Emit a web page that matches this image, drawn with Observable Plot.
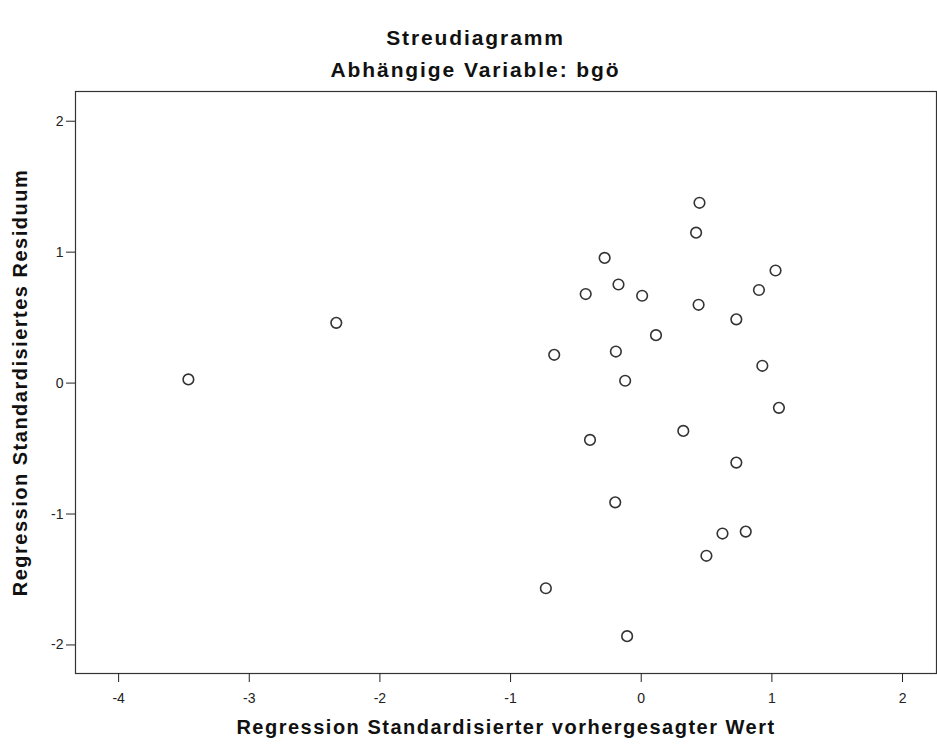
<!DOCTYPE html>
<html>
<head>
<meta charset="utf-8">
<script src="https://cdn.jsdelivr.net/npm/d3@7"></script>
<script src="https://cdn.jsdelivr.net/npm/@observablehq/plot@0.6"></script>
<style>
  html, body { margin: 0; padding: 0; background: #fff; }
  #wrap { position: relative; width: 937px; height: 747px; font-family: "Liberation Sans", Arial, sans-serif; }
  #header { position: relative; width: 937px; height: 80px; }
  .t { position: absolute; left: 7px; width: 937px; text-align: center; font-weight: bold; font-size: 21px; color: #111; line-height: 1; letter-spacing: 1.9px; }
  #title { top: 27px; }
  #subtitle { top: 59px; }
</style>
</head>
<body>
<div id="wrap">
  <div id="header">
    <div class="t" id="title">Streudiagramm</div>
    <div class="t" id="subtitle">Abhängige Variable: bgö</div>
  </div>
  <div id="chart"></div>
</div>
<script>
const predicted = [-3.466, -2.334, 0.446, 0.420, -0.280, 1.028, -0.174, -0.425, 0.007, 0.901, 0.439, 0.728, 0.113, -0.666, -0.194, 0.927, -0.123, 1.054, 0.322, -0.392, 0.728, -0.199, 0.622, 0.800, 0.499, -0.730, -0.108];
const residual  = [0.028, 0.460, 1.377, 1.149, 0.956, 0.860, 0.753, 0.680, 0.667, 0.711, 0.598, 0.487, 0.366, 0.216, 0.241, 0.132, 0.018, -0.189, -0.365, -0.434, -0.607, -0.911, -1.149, -1.134, -1.319, -1.567, -1.933];
const xTicks = [-4, -3, -2, -1, 0, 1, 2];
const yTicks = [-2, -1, 0, 1, 2];
const xLabel = "Regression Standardisierter vorhergesagter Wert";
const yLabel = "Regression Standardisiertes Residuum";

const data = predicted.map((x, i) => ({x, y: residual[i]}));

const chart = Plot.plot({
  width: 937,
  height: 667,
  marginTop: 11,
  marginBottom: 74,
  marginLeft: 75,
  marginRight: 1,
  style: { fontFamily: "Liberation Sans, Arial, sans-serif", fontSize: "14px", color: "#222", background: "#fff" },
  x: { domain: [-4.33, 2.26] },
  y: { domain: [-2.218, 2.227] },
  marks: [
    Plot.frame({ stroke: "#333", strokeWidth: 1.2 }),
    Plot.axisX({ ticks: xTicks, tickSize: 9, tickPadding: 11, label: null, tickFormat: d => String(d) }),
    Plot.axisY({ ticks: yTicks, tickSize: 9, tickPadding: 3, label: null, tickFormat: d => String(d) }),
    Plot.dot(data, { x: "x", y: "y", r: 5.3, stroke: "#333", strokeWidth: 1.6, fill: "none" }),
    Plot.text([xLabel], { text: d => d, frameAnchor: "bottom", dy: 60, textAnchor: "middle", fontWeight: "bold", fontSize: 20, fill: "#111" }),
    Plot.text([yLabel], { text: d => d, frameAnchor: "left", dx: -55, textAnchor: "middle", rotate: -90, fontWeight: "bold", fontSize: 20, fill: "#111" })
  ]
});
d3.select(chart).selectAll("text").filter(function() {
  const t = this.textContent;
  return t === xLabel || t === yLabel;
}).style("letter-spacing", "1.5px");
document.getElementById("chart").appendChild(chart);
</script>
</body>
</html>
